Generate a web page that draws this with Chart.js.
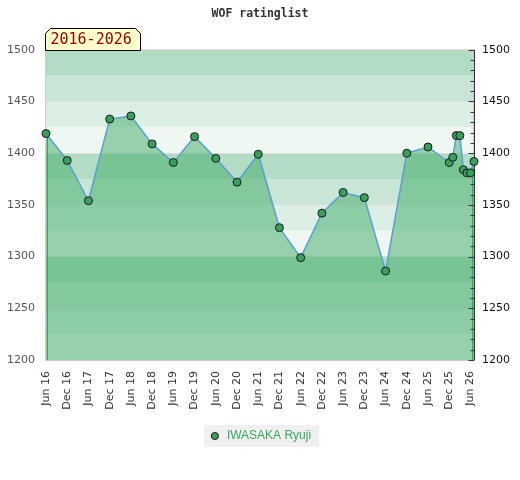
<!DOCTYPE html>
<html>
<head>
<meta charset="utf-8">
<title>WOF ratinglist</title>
<script src="https://cdn.jsdelivr.net/npm/chart.js@4.4.1/dist/chart.umd.min.js"></script>
<style>
  html, body { margin: 0; padding: 0; background: #fff; }
  canvas { display: block; }
</style>
</head>
<body>
<canvas id="chartRating" width="520" height="480"></canvas>
<script>
// rating list dates (YYYY-MM) and ratings
var dates = ['2016-06', '2016-12', '2017-06', '2017-12', '2018-06', '2018-12', '2019-06',
    '2019-12', '2020-06', '2020-12', '2021-06', '2021-12', '2022-06', '2022-12', '2023-06',
    '2023-12', '2024-06', '2024-12', '2025-06', '2025-12', '2026-01', '2026-02', '2026-03',
    '2026-04', '2026-05', '2026-06', '2026-07'];
var ratings = [1419, 1393, 1354, 1433, 1436, 1409, 1391, 1416, 1395, 1372, 1399, 1328, 1299,
    1342, 1362, 1357, 1286, 1400, 1406, 1391, 1396, 1417, 1417, 1384, 1381, 1381, 1392];
var tickLabels = ['Jun 16', 'Dec 16', 'Jun 17', 'Dec 17', 'Jun 18', 'Dec 18', 'Jun 19', 'Dec 19',
    'Jun 20', 'Dec 20', 'Jun 21', 'Dec 21', 'Jun 22', 'Dec 22', 'Jun 23', 'Dec 23', 'Jun 24',
    'Dec 24', 'Jun 25', 'Dec 25', 'Jun 26'];
var playerName = 'IWASAKA Ryuji';
var periodText = '2016-2026';
var yMin = 1200, yMax = 1500;

var bandColors = ['#b2ddc4', '#c8e6d5', '#dcefe4', '#eff7f3'];
var monthNames = ['Jan', 'Feb', 'Mar', 'Apr', 'May', 'Jun', 'Jul', 'Aug', 'Sep', 'Oct', 'Nov', 'Dec'];

// months counted from Jan 2016
var toMonth = function (d) {
    var p = d.split('-');
    return (parseInt(p[0], 10) - 2016) * 12 + parseInt(p[1], 10) - 1;
};
var labelToMonth = function (l) {
    var p = l.split(' ');
    return (parseInt(p[1], 10) - 16) * 12 + monthNames.indexOf(p[0]);
};

var points = [];
for (var i = 0; i < dates.length; i++) {
    points.push({x: toMonth(dates[i]), y: ratings[i]});
}
var tickMonths = tickLabels.map(labelToMonth);

var sansFont = "'DejaVu Sans', sans-serif";
var monoFont = "'DejaVu Sans Mono', monospace";
var plainNumber = function (value) { return String(value); };

var decorPlugin = {
    id: 'decor',
    beforeDraw: function (chart) {
        var ctx = chart.ctx, area = chart.chartArea, y = chart.scales.y;
        ctx.save();
        // horizontal bands every 25 points
        for (var v = yMax; v > yMin; v -= 25) {
            var k = ((yMax - v) / 25) % 4;
            var top = y.getPixelForValue(v), bottom = y.getPixelForValue(v - 25);
            ctx.fillStyle = bandColors[k];
            ctx.fillRect(area.left, top, area.right - area.left, bottom - top);
        }
        // legend background
        var hb = chart.legend.legendHitBoxes[0];
        if (hb) {
            var cy = hb.top + hb.height / 2;
            ctx.fillStyle = '#f0f0f0';
            ctx.fillRect(hb.left - 5, cy - 11, hb.width + 13, 22);
        }
        ctx.restore();
    },
    beforeDatasetsDraw: function (chart) {
        var ctx = chart.ctx, area = chart.chartArea;
        ctx.save();
        ctx.strokeStyle = '#cccccc';
        ctx.lineWidth = 1;
        ctx.strokeRect(Math.round(area.left) - 0.5, Math.round(area.top) + 0.5,
            Math.round(area.right - area.left), Math.round(area.bottom - area.top));
        ctx.restore();
    },
    beforeDatasetDraw: function (chart) {
        var ctx = chart.ctx, area = chart.chartArea, y = chart.scales.y, x = chart.scales.x;
        ctx.save();
        // green edges of the filled area
        ctx.strokeStyle = '#3a9f5c';
        ctx.lineWidth = 1;
        ctx.beginPath();
        var x0 = Math.round(x.getPixelForValue(points[0].x)) + 1.5;
        ctx.moveTo(x0, y.getPixelForValue(points[0].y));
        ctx.lineTo(x0, area.bottom);
        var x1 = Math.round(x.getPixelForValue(points[points.length - 1].x)) - 1.5;
        ctx.moveTo(x1, y.getPixelForValue(points[points.length - 1].y));
        ctx.lineTo(x1, area.bottom);
        ctx.stroke();
        // right axis line with inner ticks
        var rx = Math.round(area.right) + 0.5;
        ctx.strokeStyle = '#333333';
        ctx.beginPath();
        ctx.moveTo(rx, area.top);
        ctx.lineTo(rx, area.bottom);
        for (var v = yMin; v <= yMax; v += 10) {
            var py = Math.round(y.getPixelForValue(v)) + 0.5;
            var len = (v % 50 === 0) ? 6 : 4;
            ctx.moveTo(rx - len, py);
            ctx.lineTo(rx, py);
        }
        ctx.stroke();
        ctx.restore();
    },
    afterDraw: function (chart) {
        var ctx = chart.ctx, area = chart.chartArea;
        var l = Math.round(area.left) - 0.5, r = l + 95, t = 28.5, b = Math.round(area.top) + 0.5, c = 5;
        ctx.save();
        ctx.beginPath();
        ctx.moveTo(l, b);
        ctx.lineTo(l, t + c);
        ctx.lineTo(l + c, t);
        ctx.lineTo(r - c, t);
        ctx.lineTo(r, t + c);
        ctx.lineTo(r, b);
        ctx.closePath();
        ctx.fillStyle = '#ffffcc';
        ctx.fill();
        ctx.strokeStyle = '#000000';
        ctx.lineWidth = 1;
        ctx.stroke();
        ctx.fillStyle = '#8b0000';
        ctx.font = '15px ' + monoFont;
        ctx.textBaseline = 'middle';
        ctx.textAlign = 'left';
        ctx.fillText(periodText, l + 5, (t + b) / 2 + 1);
        ctx.restore();
    }
};

var ctx = document.getElementById('chartRating');
var myChart = new Chart(ctx, {
    type: 'line',
    data: {
        datasets: [{
            label: playerName,
            data: points,
            fill: 'start',
            clip: false,
            backgroundColor: 'rgba(62,172,102,0.5)',
            borderColor: '#5a9fd4',
            borderWidth: 1.5,
            tension: 0,
            pointRadius: 4,
            pointHoverRadius: 4,
            pointBackgroundColor: '#3a9f5c',
            pointBorderColor: '#1a1a1a',
            pointBorderWidth: 1
        }]
    },
    options: {
        responsive: false,
        animation: false,
        devicePixelRatio: 1,
        layout: {padding: {left: 0, right: 0, top: 0, bottom: 28}},
        plugins: {
            title: {
                display: true,
                text: 'WOF ratinglist',
                color: '#333',
                font: {family: monoFont, size: 11.5, weight: 'bold'},
                padding: {top: 7, bottom: 29}
            },
            legend: {
                position: 'bottom',
                labels: {
                    usePointStyle: true,
                    pointStyle: 'circle',
                    boxWidth: 12,
                    boxHeight: 5,
                    color: '#3aa55f',
                    padding: 10,
                    font: {family: "'Liberation Sans', Arial, sans-serif", size: 12}
                }
            },
            tooltip: {enabled: false}
        },
        scales: {
            x: {
                type: 'linear',
                min: toMonth(dates[0]),
                max: toMonth(dates[dates.length - 1]),
                afterBuildTicks: function (scale) {
                    scale.ticks = tickMonths.map(function (m) { return {value: m}; });
                },
                afterFit: function (scale) { scale.height = 60; },
                grid: {display: false},
                border: {display: false},
                ticks: {
                    autoSkip: false,
                    minRotation: 90,
                    maxRotation: 90,
                    padding: 3,
                    color: '#333',
                    font: {family: sansFont, size: 11},
                    callback: function (value) {
                        var idx = tickMonths.indexOf(value);
                        return idx >= 0 ? tickLabels[idx] : '';
                    }
                }
            },
            y: {
                position: 'left',
                min: yMin,
                max: yMax,
                afterFit: function (scale) { scale.width = 46; },
                grid: {color: '#dddddd', drawTicks: false},
                border: {display: false},
                ticks: {stepSize: 50, padding: 11, color: '#555', font: {family: sansFont, size: 11},
                    callback: plainNumber}
            },
            y2: {
                type: 'linear',
                position: 'right',
                min: yMin,
                max: yMax,
                afterFit: function (scale) { scale.width = 46; },
                grid: {display: false, drawTicks: false},
                border: {display: false},
                ticks: {stepSize: 50, padding: 8, color: '#111', font: {family: sansFont, size: 11},
                    callback: plainNumber}
            }
        }
    },
    plugins: [decorPlugin]
});
</script>
</body>
</html>
